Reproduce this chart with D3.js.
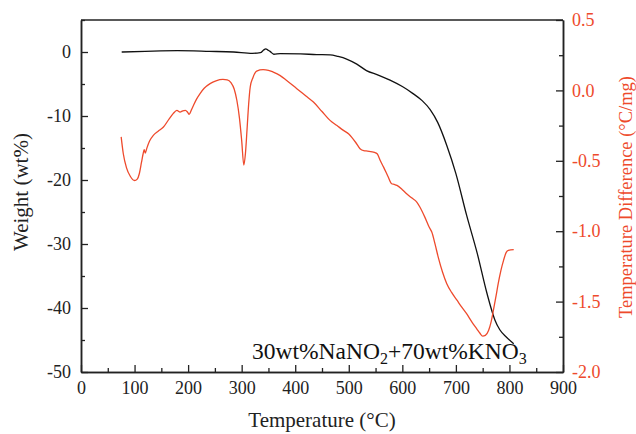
<!DOCTYPE html>
<html>
<head>
    <meta charset="utf-8">
    <script src="https://cdn.jsdelivr.net/npm/d3@7"></script>
    <style>
        body { margin: 0; background: #fff; }
        text { font-family: "Liberation Serif", "DejaVu Serif", serif; }
    </style>
</head>

<body>

    <div id="graph"></div>

<script>

// TGA curve: temperature (°C) and weight change (wt%)
const tgaTemp = [76, 120, 180, 240, 285, 320, 335, 341, 345, 349, 353, 360, 372, 410, 440, 465, 480, 496, 515, 533, 555, 577, 600, 620, 637, 652, 666, 683, 700, 720, 740, 758, 773, 782, 795, 808];
const tgaWeight = [0, 0.1, 0.2, 0.1, 0, -0.2, -0.1, 0.3, 0.5, 0.3, 0.1, -0.35, -0.25, -0.3, -0.4, -0.45, -0.7, -1.1, -1.9, -2.9, -3.6, -4.4, -5.4, -6.5, -7.6, -9, -11, -14.6, -19, -25.5, -31.5, -37.7, -41.9, -43.4, -44.6, -45.6];

// DTA curve: temperature (°C) and temperature difference (°C/mg)
const dtaTemp = [75, 79, 85, 92, 100, 105, 109, 113, 116, 118, 120, 123, 128, 135, 144, 154, 165, 172, 179, 185, 190, 195, 199, 202, 206, 210, 216, 222, 230, 241, 252, 265, 273, 280, 286, 291, 296, 300, 304, 307, 310, 313, 316, 321, 328, 340, 350, 359, 372, 384, 403, 420, 434, 450, 465, 478, 490, 500, 506, 513, 521, 528, 535, 548, 553, 559, 565, 573, 580, 585, 590, 600, 608, 618, 627, 633, 642, 650, 655, 661, 667, 675, 683, 692, 702, 711, 720, 730, 739, 745, 750, 755, 761, 766, 770, 775, 779, 784, 789, 794, 798, 808];
const dtaDiff = [-0.33, -0.45, -0.55, -0.61, -0.64, -0.63, -0.59, -0.51, -0.45, -0.42, -0.445, -0.41, -0.36, -0.32, -0.29, -0.26, -0.2, -0.165, -0.142, -0.154, -0.145, -0.142, -0.155, -0.17, -0.14, -0.107, -0.06, -0.024, 0.015, 0.048, 0.068, 0.078, 0.075, 0.055, 0.01, -0.07, -0.2, -0.355, -0.53, -0.45, -0.28, -0.1, 0.024, 0.09, 0.137, 0.147, 0.143, 0.13, 0.105, 0.071, 0.012, -0.04, -0.083, -0.15, -0.213, -0.25, -0.284, -0.31, -0.335, -0.37, -0.414, -0.428, -0.431, -0.44, -0.45, -0.5, -0.545, -0.61, -0.663, -0.668, -0.675, -0.705, -0.734, -0.765, -0.793, -0.83, -0.9, -0.97, -1.006, -1.09, -1.184, -1.29, -1.373, -1.435, -1.49, -1.54, -1.586, -1.645, -1.693, -1.725, -1.745, -1.74, -1.705, -1.64, -1.562, -1.46, -1.373, -1.28, -1.207, -1.15, -1.136, -1.131];

// tick values
const xTicks = [0, 100, 200, 300, 400, 500, 600, 700, 800, 900];
const yLeftTicks = [-50, -40, -30, -20, -10, 0];
const yRightTicks = [-2.0, -1.5, -1.0, -0.5, 0.0, 0.5];

const red = "#ee4a2c";

const margin = {top: 20, right: 73, bottom: 62, left: 81},
    width = 636 - margin.left - margin.right,
    height = 434 - margin.top - margin.bottom;

const svg = d3.select("#graph")
  .append("svg")
    .attr("width", 636)
    .attr("height", 434)
  .append("g")
    .attr("transform", `translate(${margin.left},${margin.top})`);

const x = d3.scaleLinear().domain([0, 900]).range([0, width]);
const yL = d3.scaleLinear().domain([-50, 5]).range([height, 0]);
const yR = d3.scaleLinear().domain([-2, 0.5]).range([height, 0]);

// minor ticks first, then major axes on top
svg.append("g")
    .attr("transform", `translate(0,${height})`)
    .call(d3.axisBottom(x).tickValues(d3.range(50, 900, 100)).tickSize(-4).tickSizeOuter(0).tickFormat(""));
svg.append("g")
    .call(d3.axisLeft(yL).tickValues(d3.range(-45, 10, 10)).tickSize(-4).tickSizeOuter(0).tickFormat(""));
svg.append("g")
    .attr("transform", `translate(${width},0)`)
    .call(d3.axisRight(yR).tickValues([-1.75, -1.25, -0.75, -0.25, 0.25]).tickSize(-4).tickSizeOuter(0).tickFormat(""));

const xAxis = svg.append("g")
    .attr("transform", `translate(0,${height})`)
    .call(d3.axisBottom(x).tickValues(xTicks).tickSize(-7).tickSizeOuter(0).tickPadding(9));

const yAxisL = svg.append("g")
    .call(d3.axisLeft(yL).tickValues(yLeftTicks).tickSize(-7).tickSizeOuter(0).tickPadding(10)
      .tickFormat(d => d < 0 ? "-" + Math.abs(d) : d));

const yAxisR = svg.append("g")
    .attr("transform", `translate(${width},0)`)
    .call(d3.axisRight(yR).tickValues(yRightTicks).tickSize(-7).tickSizeOuter(0).tickPadding(9)
      .tickFormat(d => (d < 0 ? "-" : "") + Math.abs(d).toFixed(1)));

// top frame
svg.append("line")
    .attr("x1", 0).attr("x2", width)
    .attr("y1", 0).attr("y2", 0)
    .attr("stroke", "#222").attr("stroke-width", 1.5);

svg.selectAll(".domain").attr("stroke", "#222").attr("stroke-width", 1.5);
svg.selectAll(".tick line").attr("stroke", "#222").attr("stroke-width", 1.3);
svg.selectAll(".tick text").style("font-size", "18px").attr("fill", "#222");
yAxisR.selectAll(".tick text").attr("fill", red);

// TGA line
const tga = tgaTemp.map((t, i) => ({t: t, v: tgaWeight[i]}));
svg.append("path")
    .datum(tga)
    .attr("fill", "none")
    .attr("stroke", "#111")
    .attr("stroke-width", 1.3)
    .attr("d", d3.line()
      .curve(d3.curveMonotoneX)
      .x(d => x(d.t))
      .y(d => yL(d.v)));

// DTA line
const dta = dtaTemp.map((t, i) => ({t: t, v: dtaDiff[i]}));
svg.append("path")
    .datum(dta)
    .attr("fill", "none")
    .attr("stroke", red)
    .attr("stroke-width", 1.3)
    .attr("d", d3.line()
      .curve(d3.curveMonotoneX)
      .x(d => x(d.t))
      .y(d => yR(d.v)));

// sample label
const lab = svg.append("text")
    .attr("x", 171)
    .attr("y", 339)
    .style("font-size", "23.5px")
    .attr("fill", "#111");
lab.append("tspan").text("30wt%NaNO");
lab.append("tspan").attr("dy", 5).style("font-size", "16px").text("2");
lab.append("tspan").attr("dy", -5).text("+70wt%KNO");
lab.append("tspan").attr("dy", 5).style("font-size", "16px").text("3");

// axis titles
svg.append("text")
    .attr("x", width / 2)
    .attr("y", height + 55)
    .attr("text-anchor", "middle")
    .style("font-size", "21px")
    .attr("fill", "#222")
    .text("Temperature (°C)");

svg.append("text")
    .attr("transform", `translate(${28 - margin.left},${height / 2 - 4}) rotate(-90)`)
    .attr("text-anchor", "middle")
    .style("font-size", "21px")
    .attr("fill", "#222")
    .text("Weight (wt%)");

svg.append("text")
    .attr("transform", `translate(${width + 69},${height / 2 + 1}) rotate(-90)`)
    .attr("text-anchor", "middle")
    .style("font-size", "18.5px")
    .attr("fill", red)
    .text("Temperature Difference (°C/mg)");

</script>

</body>
</html>
